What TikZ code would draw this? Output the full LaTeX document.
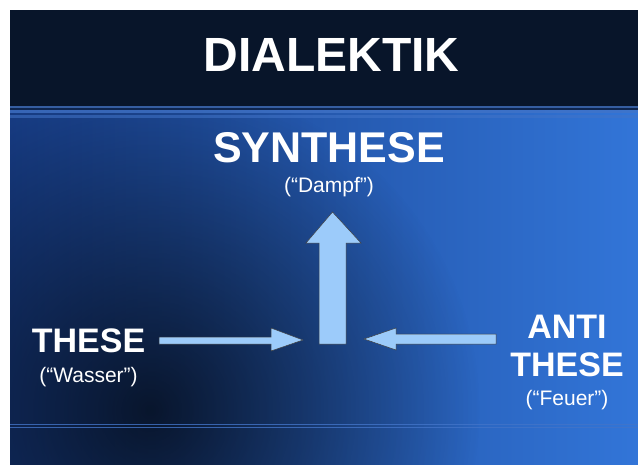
\documentclass[tikz,border=0pt]{standalone}
\usepackage{fontspec}
\setmainfont{Liberation Sans}
\usetikzlibrary{positioning, fadings}
\definecolor{headnavy}{HTML}{08152A}
\definecolor{deepblue}{HTML}{173C84}
\definecolor{midblue}{HTML}{1B4EAA}
\definecolor{brightblue}{HTML}{3275D8}
\definecolor{stripeblue}{HTML}{4274C8}
\definecolor{arrowblue}{HTML}{9CCBFA}
\tikzfading[name=softspot, inner color=transparent!0, outer color=transparent!100]
\tikzset{
  bigword/.style = {text=white, font=\bfseries\fontsize{34}{38}\selectfont, inner sep=0pt, align=center},
  hint/.style = {text=white, font=\fontsize{21}{24}\selectfont, inner sep=0pt},
  blockarrow/.style = {fill=arrowblue, draw=black!75, line width=0.5pt, line join=miter}
}

\begin{document}
\begin{tikzpicture}[x=1pt, y=-1pt]
\useasboundingbox (0,0) rectangle (638,464);
\fill[white] (0,0) rectangle (638,464);

% background of the slide
\shade[left color=deepblue, middle color=midblue, right color=brightblue] (10,106) rectangle (638,464);
\begin{scope}
\clip (10,106) rectangle (638,464);
\fill[black, opacity=0.7, path fading=softspot] (150,410) circle (330);
\end{scope}
\fill[headnavy] (10,10) rectangle (638,106);
\fill[stripeblue!80!black] (10,106) rectangle (638,107.5);
\fill[headnavy!60!deepblue] (10,107.5) rectangle (638,110);
\fill[stripeblue, opacity=0.75] (10,110) rectangle (638,113);
\fill[stripeblue, opacity=0.55] (10,115) rectangle (638,118);
\fill[stripeblue, opacity=0.8] (10,423.5) rectangle (638,425);
\fill[stripeblue, opacity=0.8] (10,426.5) rectangle (638,428);

% texts
\node[bigword, font=\bfseries\fontsize{48}{52}\selectfont] (title) at (331.5,55) {DIALEKTIK};
\node[bigword, font=\bfseries\fontsize{43}{48}\selectfont] (synthese) at (329,148) {SYNTHESE};
\node[hint, below=14pt of synthese] (dampf) {(“Dampf”)};
\node[bigword] (these) at (88.5,340.5) {THESE};
\node[hint, below=14pt of these] (wasser) {(“Wasser”)};
\node[bigword] (anti) at (567,346) {ANTI\\THESE};
\node[hint, below=13pt of anti] (feuer) {(“Feuer”)};

% block arrows
\draw[blockarrow] (319,344) -- (319,243) -- (306,243) -- (332.5,212)
  -- (361,243) -- (346,243) -- (346,344) -- cycle;
\draw[blockarrow] (159,337) -- (271,337) -- (271,328) -- (303,340)
  -- (271,351) -- (271,344) -- (159,344) -- cycle;
\draw[blockarrow] (496,334) -- (396,334) -- (396,328) -- (364,339)
  -- (396,350) -- (396,344) -- (496,344) -- cycle;
\end{tikzpicture}
\end{document}
